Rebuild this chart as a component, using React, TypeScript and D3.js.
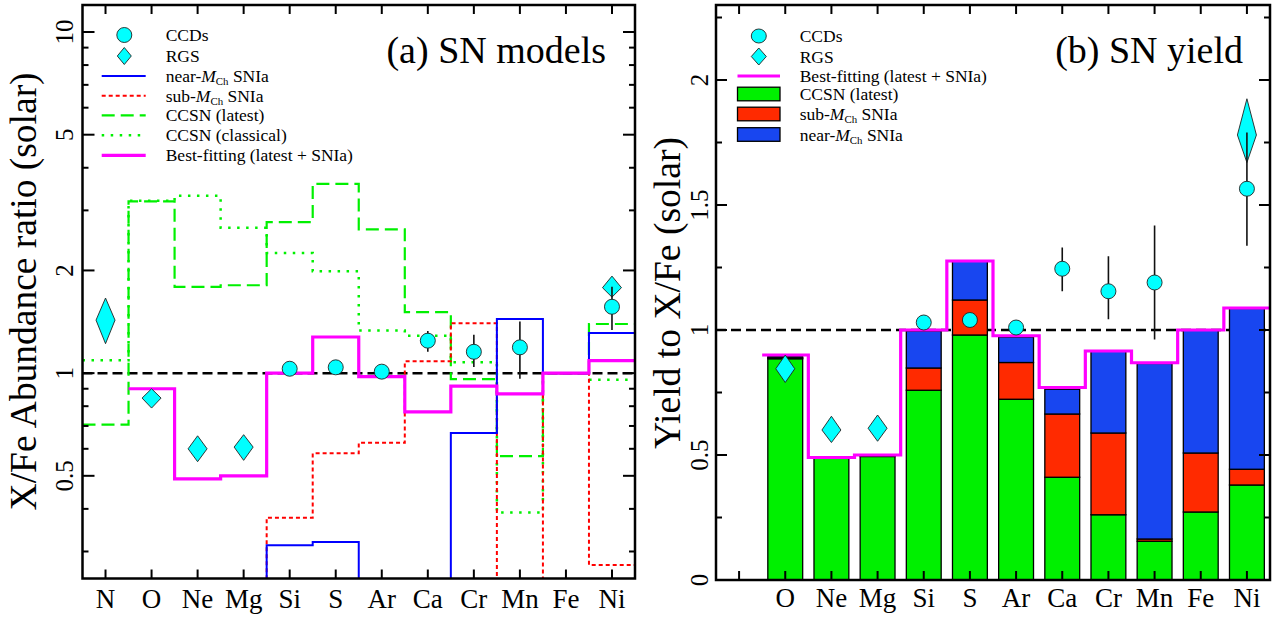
import React from "react";
import * as d3 from "d3";

const FONT = "Liberation Serif, Times New Roman, serif";

// ---- panel (a): abundance ratios and SN models ----
const leftElems = ["N", "O", "Ne", "Mg", "Si", "S", "Ar", "Ca", "Cr", "Mn", "Fe", "Ni"];
const ccsnLatest = [0.706, 3.19, 1.79, 1.81, 2.77, 3.59, 2.64, 1.51, 0.96, 0.571, 1.0, 1.393];
const ccsnClassical = [1.09, 3.2, 3.31, 2.67, 2.25, 1.99, 1.333, 1.287, 1.076, 0.39, 1.0, 0.957];

const modelElems = ["O", "Ne", "Mg", "Si", "S", "Ar", "Ca", "Cr", "Mn", "Fe", "Ni"];
// values below 0.25 fall under the bottom of the axis
const nearMch = [0.1, 0.1, 0.1, 0.313, 0.32, 0.1, 0.1, 0.668, 1.44, 1.0, 1.31];
const subMch = [0.1, 0.1, 0.1, 0.377, 0.582, 0.625, 1.083, 1.4, 0.1, 1.0, 0.274];
const bestFit = [0.9, 0.49, 0.5, 1.0, 1.276, 0.977, 0.77, 0.916, 0.869, 1.0, 1.088];

// ---- panel (b): yield contributions ----
const yieldCcsn = [0.885, 0.49, 0.494, 0.759, 0.98, 0.723, 0.411, 0.261, 0.155, 0.272, 0.38];
const yieldSub = [0.004, 0, 0, 0.089, 0.14, 0.147, 0.253, 0.327, 0.009, 0.236, 0.063];
const yieldNear = [0.006, 0, 0.003, 0.148, 0.157, 0.102, 0.099, 0.327, 0.702, 0.492, 0.643];

// ---- observations ----
const ccdElems = ["Si", "S", "Ar", "Ca", "Cr", "Mn", "Ni"];
const ccdVal = [1.03, 1.04, 1.01, 1.245, 1.155, 1.19, 1.565];
const ccdLo = [1.015, 1.025, 0.995, 1.155, 1.043, 0.962, 1.337];
const ccdHi = [1.045, 1.055, 1.025, 1.33, 1.295, 1.418, 1.79];

const rgsElems = ["N", "O", "Ne", "Mg", "Ni"];
const rgsVal = [1.43, 0.845, 0.6, 0.607, 1.78];
const rgsLo = [1.22, 0.79, 0.55, 0.555, 1.67];
const rgsHi = [1.66, 0.9, 0.655, 0.66, 1.925];

const leftMajor = [0.5, 1, 2, 5, 10];
const leftMinor = [0.3, 0.4, 0.6, 0.7, 0.8, 0.9, 3, 4, 6, 7, 8, 9];
const rightMajor = [0, 0.5, 1, 1.5, 2];
const rightMinor = [0.25, 0.75, 1.25, 1.75, 2.25];

const GREEN = "#00f000";
const RED = "#ff2a00";
const BLUE = "#1846f0";
const CYAN = "#00ffff";
const MAGENTA = "#ff00ff";

const T = { fontFamily: FONT };

const Diamond = ({ cx, cy, top, bottom, hw }) => (
  <path
    d={`M${cx},${top}L${cx + hw},${cy}L${cx},${bottom}L${cx - hw},${cy}Z`}
    fill={CYAN}
    stroke="#222"
    strokeWidth={0.9}
  />
);

const MchLabel = ({ x, y, pre, size }) => (
  <text x={x} y={y} fontSize={size} style={T}>
    {pre}
    <tspan fontStyle="italic">M</tspan>
    <tspan fontSize={size * 0.62} dy={3}>Ch</tspan>
    <tspan dy={-3}> SNIa</tspan>
  </text>
);

export default function App() {
  // panel (a)
  const L = { x0: 82.5, x1: 635, y0: 5, y1: 578.5 };
  const xL = d3.scaleBand().domain(leftElems).range([L.x0, L.x1]);
  const yL = d3.scaleLog().domain([0.25, 12]).range([L.y1, L.y0]);
  const bwL = xL.bandwidth();
  const cxL = (e) => xL(e) + bwL / 2;

  const lineL = d3
    .line()
    .x((d) => d[0])
    .y((d) => yL(d[1]));
  const stepL = (elems, vals) =>
    lineL(elems.flatMap((e, i) => [[xL(e), vals[i]], [xL(e) + bwL, vals[i]]]));

  // panel (b)
  const R = { x0: 716, x1: 1270, y0: 5, y1: 580 };
  const xR = d3.scaleBand().domain(["", ...modelElems]).range([R.x0, R.x1]);
  const yR = d3.scaleLinear().domain([0, 2.3]).range([R.y1, R.y0]);
  const bwR = xR.bandwidth();
  const cxR = (e) => xR(e) + bwR / 2;
  const barW = bwR * 0.755;
  const stepR = d3
    .line()
    .x((d) => d[0])
    .y((d) => yR(d[1]))(
    modelElems.flatMap((e, i) => [[xR(e), bestFit[i]], [xR(e) + bwR, bestFit[i]]])
  );

  const stacks = modelElems.map((e, i) => {
    const parts = [
      { v: yieldCcsn[i], c: GREEN },
      { v: yieldSub[i], c: RED },
      { v: yieldNear[i], c: BLUE },
    ];
    let base = 0;
    return parts.map((p) => {
      const s = { e, lo: base, hi: base + p.v, c: p.c };
      base += p.v;
      return s;
    });
  });

  const legL = { mx: 124.3, lx0: 101.7, lx1: 145.7, tx: 165.7 };
  const rowsL = [35, 56, 76, 95.7, 115.3, 135.3, 155.3];
  const legR = { mx: 758.8, lx0: 737.5, lx1: 780, tx: 799.7 };
  const rowsR = [36, 56.5, 76, 94, 114, 134.5];

  return (
    <svg
      width={1282}
      height={621}
      style={{ position: "absolute", left: 0, top: 0, background: "#fff", fontFamily: FONT }}
    >
      <defs>
        <clipPath id="clipL">
          <rect x={L.x0} y={L.y0} width={L.x1 - L.x0} height={L.y1 - L.y0} />
        </clipPath>
      </defs>

      {/* ================= panel (a) ================= */}
      <g clipPath="url(#clipL)" fill="none">
        <line x1={L.x0} x2={L.x1} y1={yL(1)} y2={yL(1)} stroke="#000" strokeWidth={2.5} strokeDasharray="10,5" />
        <path d={stepL(leftElems, ccsnClassical)} stroke={GREEN} strokeWidth={2.5} strokeDasharray="2.5,6.5" />
        <path d={stepL(leftElems, ccsnLatest)} stroke={GREEN} strokeWidth={2.2} strokeDasharray="13,6" />
        <path d={stepL(modelElems, subMch)} stroke="#ff0000" strokeWidth={2} strokeDasharray="4,3" />
        <path d={stepL(modelElems, nearMch)} stroke="#0000ff" strokeWidth={2} />
        <path d={stepL(modelElems, bestFit)} stroke={MAGENTA} strokeWidth={3.2} />
      </g>

      {rgsElems.map((e, i) => {
        const cy = yL(rgsVal[i]);
        return (
          <Diamond
            key={"rl" + e}
            cx={cxL(e)}
            cy={cy}
            top={Math.min(yL(rgsHi[i]), cy - 9)}
            bottom={Math.max(yL(rgsLo[i]), cy + 9)}
            hw={9.5}
          />
        );
      })}
      {ccdElems.map((e, i) => (
        <line key={"el" + e} x1={cxL(e)} x2={cxL(e)} y1={yL(ccdLo[i])} y2={yL(ccdHi[i])} stroke="#111" strokeWidth={1.6} />
      ))}
      {ccdElems.map((e, i) => (
        <circle key={"cl" + e} cx={cxL(e)} cy={yL(ccdVal[i])} r={7.5} fill={CYAN} stroke="#222" strokeWidth={0.9} />
      ))}

      {/* axes (a) */}
      <rect x={L.x0} y={L.y0} width={L.x1 - L.x0} height={L.y1 - L.y0} fill="none" stroke="#000" strokeWidth={2.5} />
      <g stroke="#000" strokeWidth={2}>
        {leftElems.map((e) => (
          <g key={"tl" + e}>
            <line x1={cxL(e)} x2={cxL(e)} y1={L.y1} y2={L.y1 - 9} />
            <line x1={cxL(e)} x2={cxL(e)} y1={L.y0} y2={L.y0 + 9} />
          </g>
        ))}
        {leftMajor.map((v) => (
          <g key={"ml" + v}>
            <line x1={L.x0} x2={L.x0 + 12} y1={yL(v)} y2={yL(v)} />
            <line x1={L.x1} x2={L.x1 - 12} y1={yL(v)} y2={yL(v)} />
          </g>
        ))}
        {leftMinor.map((v) => (
          <g key={"nl" + v}>
            <line x1={L.x0} x2={L.x0 + 6} y1={yL(v)} y2={yL(v)} />
            <line x1={L.x1} x2={L.x1 - 6} y1={yL(v)} y2={yL(v)} />
          </g>
        ))}
      </g>
      {leftElems.map((e) => (
        <text key={"xl" + e} x={cxL(e)} y={608} fontSize={27} textAnchor="middle" style={T}>
          {e}
        </text>
      ))}
      {leftMajor.map((v) => (
        <text key={"yl" + v} transform={`translate(73,${yL(v)}) rotate(-90)`} fontSize={25} textAnchor="middle" style={T}>
          {v}
        </text>
      ))}
      <text
        transform="translate(35.5,291.4) rotate(-90)"
        fontSize={37}
        textAnchor="middle"
        textLength={438}
        lengthAdjust="spacingAndGlyphs"
        style={T}
      >
        X/Fe Abundance ratio (solar)
      </text>
      <text x={606} y={63} fontSize={38} textAnchor="end" style={T}>
        (a) SN models
      </text>

      {/* legend (a) */}
      <circle cx={legL.mx} cy={rowsL[0]} r={7.5} fill={CYAN} stroke="#222" strokeWidth={0.9} />
      <Diamond cx={legL.mx} cy={rowsL[1]} top={rowsL[1] - 8.5} bottom={rowsL[1] + 8.5} hw={7} />
      <g fill="none">
        <line x1={legL.lx0} x2={legL.lx1} y1={rowsL[2]} y2={rowsL[2]} stroke="#0000ff" strokeWidth={2} />
        <line x1={legL.lx0} x2={legL.lx1} y1={rowsL[3]} y2={rowsL[3]} stroke="#ff0000" strokeWidth={2} strokeDasharray="4,3" />
        <line x1={legL.lx0} x2={legL.lx1} y1={rowsL[4]} y2={rowsL[4]} stroke={GREEN} strokeWidth={2.2} strokeDasharray="13,6" />
        <line x1={legL.lx0} x2={legL.lx1} y1={rowsL[5]} y2={rowsL[5]} stroke={GREEN} strokeWidth={2.5} strokeDasharray="2.5,6.5" />
        <line x1={legL.lx0} x2={legL.lx1} y1={rowsL[6]} y2={rowsL[6]} stroke={MAGENTA} strokeWidth={3.2} />
      </g>
      <g fontSize={17.5}>
        <text x={legL.tx} y={rowsL[0] + 6} style={T}>CCDs</text>
        <text x={legL.tx} y={rowsL[1] + 6} style={T}>RGS</text>
        <MchLabel x={legL.tx} y={rowsL[2] + 6} pre="near-" size={17.5} />
        <MchLabel x={legL.tx} y={rowsL[3] + 6} pre="sub-" size={17.5} />
        <text x={legL.tx} y={rowsL[4] + 6} style={T}>CCSN (latest)</text>
        <text x={legL.tx} y={rowsL[5] + 6} style={T}>CCSN (classical)</text>
        <text x={legL.tx} y={rowsL[6] + 6} style={T}>Best-fitting (latest + SNIa)</text>
      </g>

      {/* ================= panel (b) ================= */}
      <line x1={R.x0} x2={R.x1} y1={yR(1)} y2={yR(1)} stroke="#000" strokeWidth={2.5} strokeDasharray="10,5" />
      {stacks.map((st) =>
        st
          .filter((s) => s.hi - s.lo > 0)
          .map((s, j) => (
            <rect
              key={"b" + s.e + j}
              x={cxR(s.e) - barW / 2}
              y={yR(s.hi)}
              width={barW}
              height={yR(s.lo) - yR(s.hi)}
              fill={s.c}
              stroke="#000"
              strokeWidth={1.3}
            />
          ))
      )}
      <path d={stepR} fill="none" stroke={MAGENTA} strokeWidth={3.2} />

      {rgsElems
        .map((e, i) => ({ e, i }))
        .filter((d) => modelElems.includes(d.e))
        .map(({ e, i }) => {
          const cy = yR(rgsVal[i]);
          return (
            <Diamond
              key={"rr" + e}
              cx={cxR(e)}
              cy={cy}
              top={Math.min(yR(rgsHi[i]), cy - 9)}
              bottom={Math.max(yR(rgsLo[i]), cy + 9)}
              hw={9.5}
            />
          );
        })}
      {ccdElems.map((e, i) => (
        <line key={"er" + e} x1={cxR(e)} x2={cxR(e)} y1={yR(ccdLo[i])} y2={yR(ccdHi[i])} stroke="#111" strokeWidth={1.6} />
      ))}
      {ccdElems.map((e, i) => (
        <ellipse key={"cr" + e} cx={cxR(e)} cy={yR(ccdVal[i])} rx={7.5} ry={7.5} fill={CYAN} stroke="#222" strokeWidth={0.9} />
      ))}

      {/* axes (b) */}
      <rect x={R.x0} y={R.y0} width={R.x1 - R.x0} height={R.y1 - R.y0} fill="none" stroke="#000" strokeWidth={2.5} />
      <g stroke="#000" strokeWidth={2}>
        {xR.domain().map((e, k) => (
          <g key={"tr" + k}>
            <line x1={cxR(e)} x2={cxR(e)} y1={R.y1} y2={R.y1 - 9} />
            <line x1={cxR(e)} x2={cxR(e)} y1={R.y0} y2={R.y0 + 9} />
          </g>
        ))}
        {rightMajor.map((v) => (
          <g key={"mr" + v}>
            <line x1={R.x0} x2={R.x0 + 11} y1={yR(v)} y2={yR(v)} />
            <line x1={R.x1} x2={R.x1 - 11} y1={yR(v)} y2={yR(v)} />
          </g>
        ))}
        {rightMinor.map((v) => (
          <g key={"nr" + v}>
            <line x1={R.x0} x2={R.x0 + 6} y1={yR(v)} y2={yR(v)} />
            <line x1={R.x1} x2={R.x1 - 6} y1={yR(v)} y2={yR(v)} />
          </g>
        ))}
      </g>
      {modelElems.map((e) => (
        <text key={"xr" + e} x={cxR(e)} y={607} fontSize={27} textAnchor="middle" style={T}>
          {e}
        </text>
      ))}
      {rightMajor.map((v) => (
        <text key={"yr" + v} transform={`translate(708,${yR(v)}) rotate(-90)`} fontSize={25} textAnchor="middle" style={T}>
          {v}
        </text>
      ))}
      <text
        transform="translate(680,293) rotate(-90)"
        fontSize={37}
        textAnchor="middle"
        textLength={312}
        lengthAdjust="spacingAndGlyphs"
        style={T}
      >
        Yield to X/Fe (solar)
      </text>
      <text x={1243} y={63} fontSize={38} textAnchor="end" style={T}>
        (b) SN yield
      </text>

      {/* legend (b) */}
      <ellipse cx={legR.mx} cy={rowsR[0]} rx={7.5} ry={7} fill={CYAN} stroke="#222" strokeWidth={0.9} />
      <Diamond cx={legR.mx} cy={rowsR[1]} top={rowsR[1] - 8.5} bottom={rowsR[1] + 8.5} hw={7.5} />
      <line x1={legR.lx0} x2={legR.lx1} y1={rowsR[2]} y2={rowsR[2]} stroke={MAGENTA} strokeWidth={3.2} />
      {[GREEN, RED, BLUE].map((c, k) => (
        <rect
          key={"lb" + k}
          x={legR.lx0}
          y={rowsR[3 + k] - 6.8}
          width={legR.lx1 - legR.lx0}
          height={13.6}
          fill={c}
          stroke="#000"
          strokeWidth={1.3}
        />
      ))}
      <g fontSize={17.5}>
        <text x={legR.tx} y={rowsR[0] + 6} style={T}>CCDs</text>
        <text x={legR.tx} y={rowsR[1] + 6} style={T}>RGS</text>
        <text x={legR.tx} y={rowsR[2] + 6} style={T}>Best-fitting (latest + SNIa)</text>
        <text x={legR.tx} y={rowsR[3] + 6} style={T}>CCSN (latest)</text>
        <MchLabel x={legR.tx} y={rowsR[4] + 6} pre="sub-" size={17.5} />
        <MchLabel x={legR.tx} y={rowsR[5] + 6} pre="near-" size={17.5} />
      </g>
    </svg>
  );
}
